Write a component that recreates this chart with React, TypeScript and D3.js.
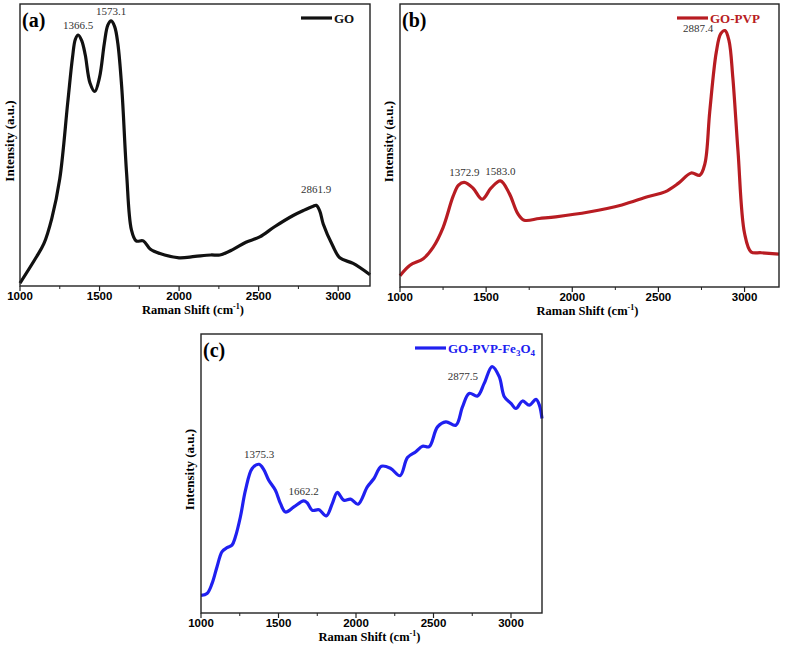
import * as d3 from 'd3';

// wavenumber (cm-1) / intensity (a.u., 0-100 of the frame height)
const goX = [1000, 1100, 1150, 1200, 1250, 1300, 1330, 1348, 1366, 1388, 1410, 1440, 1470, 1500, 1530, 1552, 1573, 1595, 1615, 1640, 1670, 1700, 1730, 1775, 1820, 1880, 2000, 2100, 2200, 2256, 2340, 2420, 2507, 2600, 2717, 2790, 2843, 2862, 2885, 2906, 2968, 3010, 3094, 3200];
const goY = [1, 10, 15, 24, 38, 65, 81, 87.5, 89, 87, 82, 72, 69, 74, 86, 92.5, 94, 92, 86, 70, 40, 20, 16, 16, 13, 11.5, 10, 10.5, 11, 11, 13, 15.5, 17.4, 21, 25, 27, 28.3, 28.6, 26.5, 22, 14, 10, 8, 4];

const pvpX = [1000, 1058, 1135, 1192, 1250, 1308, 1340, 1373, 1423, 1477, 1529, 1583, 1635, 1683, 1721, 1808, 1904, 2096, 2288, 2442, 2538, 2615, 2690, 2740, 2770, 2798, 2836, 2862, 2887, 2910, 2932, 2962, 3000, 3038, 3096, 3200];
const pvpY = [4, 7.7, 10, 14, 21, 32, 36, 37, 35, 31, 35, 37.5, 33, 26, 23.6, 24.2, 24.8, 26.5, 29, 32, 33.6, 36.6, 40.3, 39.5, 43.6, 62, 83, 89.5, 90.6, 87, 74, 48, 19, 12.4, 12.1, 11.6];

const feX = [1000, 1039, 1071, 1103, 1136, 1168, 1200, 1222, 1254, 1287, 1330, 1375, 1405, 1437, 1480, 1513, 1545, 1599, 1662, 1685, 1718, 1761, 1808, 1847, 1879, 1922, 1965, 2013, 2073, 2116, 2164, 2224, 2284, 2332, 2386, 2429, 2472, 2526, 2580, 2644, 2687, 2730, 2784, 2827, 2878, 2924, 2957, 3000, 3032, 3075, 3118, 3161, 3183, 3200];
const feY = [6.3, 7, 10.5, 16.5, 22, 23.4, 24.3, 27.3, 34.4, 44, 51.8, 53.3, 51.4, 47.6, 44, 39.2, 36.2, 38, 40.2, 39.5, 36.8, 37, 34.8, 39.2, 43.2, 40.4, 40.8, 39, 45.2, 48.2, 52.6, 51.8, 49.2, 55.7, 57.8, 59.8, 59.6, 66.7, 68.5, 67.3, 73.9, 78.7, 77.8, 82.3, 88.3, 84.7, 77.5, 75.1, 73.3, 76, 74.5, 76.6, 74.5, 69.7];

const majorTicks = [1000, 1500, 2000, 2500, 3000];
const minorTicks = [1250, 1750, 2250, 2750];

const goPeaks = ['1366.5', '1573.1', '2861.9'];
const pvpPeaks = ['1372.9', '1583.0', '2887.4'];
const fePeaks = ['1375.3', '1662.2', '2877.5'];

interface Peak { label: string; x: number; y: number; }

interface PanelProps {
    left: number; top: number; width: number; height: number;
    xs: number[]; ys: number[];
    color: string;
    tag: string;
    legend: React.ReactNode;
    legendX: number;
    peaks: Peak[];
    yLabelX: number;
}

const serif = 'Liberation Serif, Times New Roman, serif';
const sans = 'Liberation Sans, Arial, sans-serif';

function Panel(p: PanelProps) {
    const x = d3.scaleLinear().domain([1000, 3200]).range([p.left, p.left + p.width]);
    const y = d3.scaleLinear().domain([0, 100]).range([p.top + p.height, p.top]);
    const line = d3.line<number>()
        .x((_, i) => x(p.xs[i]))
        .y((d) => y(d))
        .curve(d3.curveCatmullRom.alpha(0.5));
    const bottom = p.top + p.height;
    const legendY = p.top + 14;
    return (
        <g>
            <clipPath id={'clip' + p.tag}>
                <rect x={p.left} y={p.top} width={p.width} height={p.height} />
            </clipPath>
            <path d={line(p.ys) ?? ''} fill="none" stroke={p.color} strokeWidth={3.2}
                strokeLinejoin="round" clipPath={`url(#clip${p.tag})`} />
            <rect x={p.left} y={p.top} width={p.width} height={p.height} fill="none" stroke="#222" strokeWidth={1.4} />
            {majorTicks.map(t => (
                <g key={t}>
                    <line x1={x(t)} x2={x(t)} y1={bottom} y2={bottom + 5} stroke="#222" strokeWidth={1.2} />
                    <text x={x(t)} y={bottom + 14} textAnchor="middle" fontFamily={sans} fontWeight="bold" fontSize={11.5}>{t}</text>
                </g>
            ))}
            {minorTicks.map(t => (
                <line key={t} x1={x(t)} x2={x(t)} y1={bottom} y2={bottom + 3} stroke="#222" strokeWidth={1} />
            ))}
            <text x={p.left + p.width / 2 - 2} y={bottom + 28} textAnchor="middle" fontFamily={serif} fontWeight="bold" fontSize={12.5}>
                Raman Shift (cm<tspan dy={-5} fontSize={8}>-1</tspan><tspan dy={5}>)</tspan>
            </text>
            <text transform={`translate(${p.yLabelX},${p.top + p.height / 2 - 4}) rotate(-90)`} textAnchor="middle"
                fontFamily={serif} fontWeight="bold" fontSize={13}>Intensity (a.u.)</text>
            <text x={p.left + 2} y={p.top + 23} fontFamily={serif} fontWeight="bold" fontSize={20}>{p.tag}</text>
            <line x1={p.legendX} x2={p.legendX + 31} y1={legendY} y2={legendY} stroke={p.color} strokeWidth={3.2} />
            <text x={p.legendX + 33} y={legendY + 4.5} fontFamily={serif} fontWeight="bold" fontSize={13} fill={p.color}>{p.legend}</text>
            {p.peaks.map(k => (
                <text key={k.label} x={x(k.x)} y={y(k.y) - 6} textAnchor="middle" fontFamily={serif} fontSize={11} fill="#333">{k.label}</text>
            ))}
        </g>
    );
}

export default function App() {
    return (
        <svg width={787} height={652} style={{ position: 'absolute', left: 0, top: 0, background: '#fff' }}>
            <Panel left={20} top={4} width={350} height={282} xs={goX} ys={goY} color="#111" tag="(a)"
                legend="GO" legendX={301} yLabelX={14} peaks={[
                    { label: goPeaks[0], x: 1366, y: 89 },
                    { label: goPeaks[1], x: 1573, y: 94 },
                    { label: goPeaks[2], x: 2862, y: 31 },
                ]} />
            <Panel left={400} top={4} width={379} height={283} xs={pvpX} ys={pvpY} color="#b81c22" tag="(b)"
                legend="GO-PVP" legendX={677} yLabelX={393} peaks={[
                    { label: pvpPeaks[0], x: 1373, y: 37 },
                    { label: pvpPeaks[1], x: 1583, y: 37.5 },
                    { label: pvpPeaks[2], x: 2730, y: 88 },
                ]} />
            <Panel left={201} top={334} width={341} height={279} xs={feX} ys={feY} color="#2020f0" tag="(c)"
                legend={<>GO-PVP-Fe<tspan dy={3} fontSize={9}>3</tspan><tspan dy={-3}>O</tspan><tspan dy={3} fontSize={9}>4</tspan></>}
                legendX={415} yLabelX={194} peaks={[
                    { label: fePeaks[0], x: 1375, y: 53.3 },
                    { label: fePeaks[1], x: 1662, y: 40.2 },
                    { label: fePeaks[2], x: 2690, y: 81.5 },
                ]} />
        </svg>
    );
}
